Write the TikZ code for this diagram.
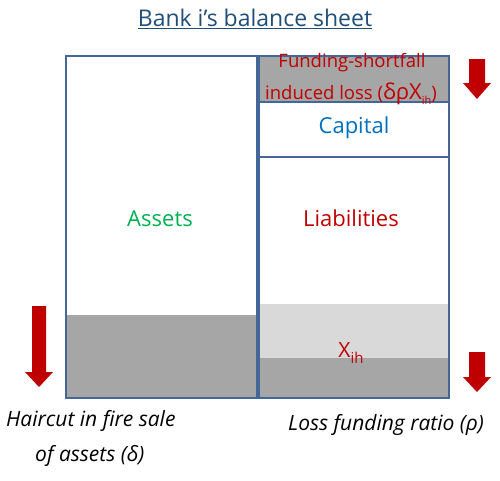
\documentclass[tikz,border=0pt]{standalone}
\usepackage{fontspec}
\setmainfont{Open Sans}
\definecolor{frame}{HTML}{44679A}
\definecolor{dgray}{HTML}{A6A6A6}
\definecolor{lgray}{HTML}{D9D9D9}
\definecolor{tred}{HTML}{C00000}
\definecolor{tgreen}{HTML}{00B050}
\definecolor{tblue}{HTML}{0070C0}
\definecolor{ttitle}{HTML}{1F4E79}
\begin{document}
\begin{tikzpicture}[x=1pt,y=-1pt,
  boxline/.style={draw=frame,line width=1.6pt},
  redarrow/.style={fill=tred,draw=none},
  lbl/.style={inner sep=0pt,font=\fontsize{22}{26}\selectfont},
  note/.style={inner sep=0pt,font=\fontsize{21}{24}\selectfont\itshape}]
\useasboundingbox (0,0) rectangle (500,480);
% left: assets
\fill[dgray] (66,315) rectangle (257,398);
\draw[boxline] (66,56) rectangle (257,398);
% right: shortfall
\fill[dgray] (259,56) rectangle (449,102);
\draw[boxline] (259,56) rectangle (449,102);
% capital
\draw[boxline] (259,102) rectangle (449,157);
% liabilities
\fill[lgray] (259,304) rectangle (449,358);
\fill[dgray] (259,358) rectangle (449,398);
\draw[boxline] (259,157) rectangle (449,398);
% texts
\node[lbl,text=ttitle,font=\fontsize{23}{26}\selectfont] (title) at (255,19) {\underline{Bank i’s balance sheet}};
\node[lbl,text=tgreen] (atext) at (160,219) {Assets};
\node[lbl,text=tred] (ltext) at (351,218) {Liabilities};
\node[lbl,text=tblue] (ctext) at (354,128) {Capital};
\node[lbl,text=tred,font=\fontsize{18.5}{20}\selectfont] (s1) at (352,63) {Funding-shortfall};
\node[lbl,text=tred,font=\fontsize{18.5}{20}\selectfont] (s2) at (351,94) {induced loss ({\fontsize{22}{24}\selectfont δρX}\raisebox{-0.45ex}{\fontsize{11}{12}\selectfont ih})};
\node[lbl,text=tred,font=\fontsize{21}{24}\selectfont] (x) at (351,353) {X\raisebox{-0.5ex}{\fontsize{15}{17}\selectfont ih}};
\node[note,anchor=west] (n1) at (6,421) {Haircut in fire sale};
\node[note,anchor=west] (n2) at (35,456) {of assets (δ)};
\node[note,anchor=west] (n3) at (288,425) {Loss funding ratio (ρ)};
% arrows
\fill[redarrow] (32,306) -- (46,306) -- (46,372) -- (53,372) -- (39,387) -- (25,372) -- (32,372) -- cycle;
\fill[redarrow] (469,59) -- (485,59) -- (485,83) -- (491,83) -- (477,99) -- (463,83) -- (469,83) -- cycle;
\fill[redarrow] (469,352) -- (485,352) -- (485,377) -- (491,377) -- (477,392) -- (463,377) -- (469,377) -- cycle;
\end{tikzpicture}
\end{document}
